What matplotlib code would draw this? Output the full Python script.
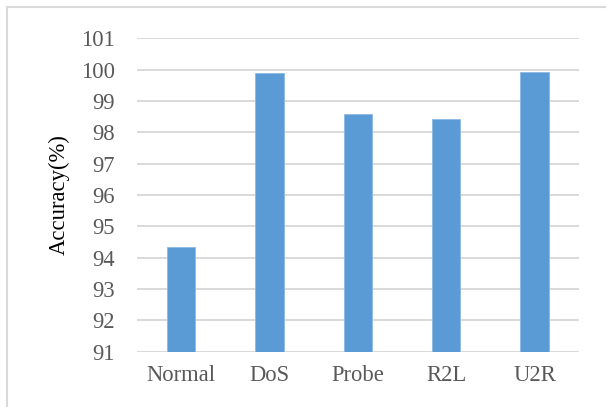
import matplotlib.pyplot as plt
from matplotlib.lines import Line2D

# Detection accuracy per attack class
classes = ['Normal', 'DoS', 'Probe', 'R2L', 'U2R']
accuracy = [94.34, 99.88, 98.58, 98.41, 99.91]
yticks = list(range(91, 102))

plt.rcParams['font.family'] = ['Liberation Serif', 'DejaVu Serif']

fig = plt.figure(figsize=(6.06, 4.07), dpi=100)
ax = fig.add_axes([0.226, 0.136, 0.729, 0.770])

ax.bar(range(len(classes)), accuracy, width=0.32, bottom=0,
       color='#5B9BD5', edgecolor='#8DB8E2', linewidth=0.6, zorder=3)

ax.set_xlim(-0.5, len(classes) - 0.5)
ax.set_ylim(91, 101)
ax.set_yticks(yticks)
ax.set_xticks(range(len(classes)))
ax.set_xticklabels(classes)

ax.grid(axis='y', color='#d9d9d9', linewidth=1.4, zorder=0)
ax.set_axisbelow(True)
for s in ax.spines.values():
    s.set_visible(False)

ax.tick_params(axis='y', length=0, pad=16, labelsize=16.3, labelcolor='#595959')
ax.tick_params(axis='x', length=0, pad=9.5, labelsize=16.3, labelcolor='#595959')
ax.set_ylabel('Accuracy(%)', fontsize=16.3, color='black', labelpad=8)

# light frame around the chart area
fx, fy = 7 / 606, 1 - 6.5 / 407
fig.add_artist(Line2D([fx, fx], [0, fy], transform=fig.transFigure,
                      color='#d9d9d9', linewidth=1.5))
fig.add_artist(Line2D([fx, 1], [fy, fy], transform=fig.transFigure,
                      color='#d9d9d9', linewidth=1.5))

plt.savefig('out.png', dpi=100)
